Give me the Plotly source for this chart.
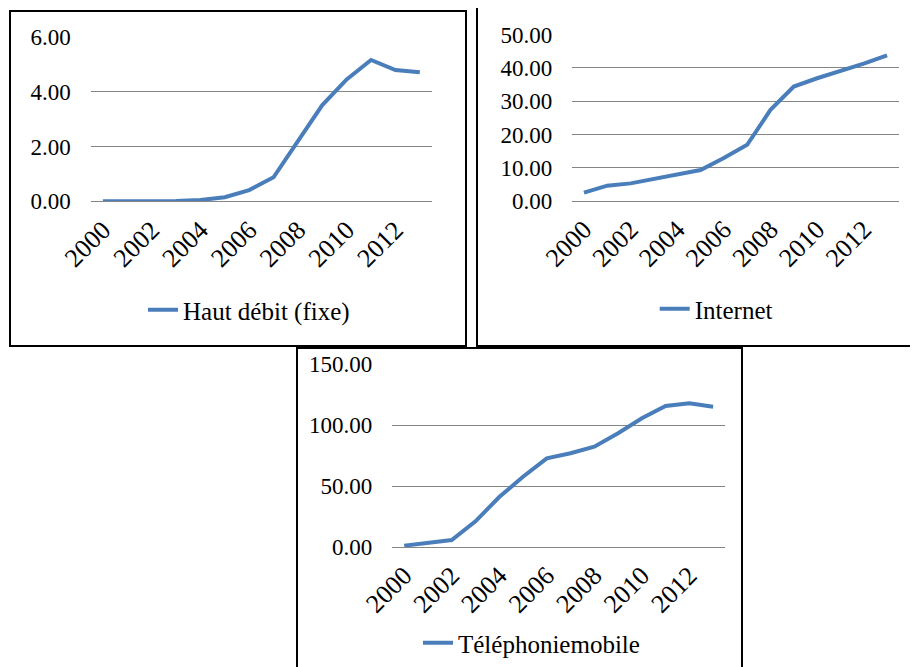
import plotly.graph_objects as go

YEARS = list(range(2000, 2014))
TICK_YEARS = [2000, 2002, 2004, 2006, 2008, 2010, 2012]

haut_debit = [0.0, 0.0, 0.0, 0.01, 0.05, 0.15, 0.41, 0.88, 2.2, 3.52, 4.46, 5.17, 4.80, 4.72]
internet = [2.5, 4.6, 5.3, 6.6, 8.1, 9.3, 12.9, 16.9, 27.4, 34.4, 36.9, 39.0, 41.3, 43.8]
mobile = [1.1, 3.6, 5.7, 21.0, 41.0, 57.6, 72.7, 76.8, 82.2, 93.2, 105.5, 115.6, 117.8, 115.0]

names = ["Haut débit (fixe)", "Internet", "Téléphoniemobile"]

# page body has an 8px margin, so the figure is drawn 8px in from the window edge
OFF = 8
W, H = 918 - OFF, 667 - OFF
FONT = "Liberation Serif"
BLUE = "#4a7ebb"
GRID = "#858585"

def px(x):
    return (x - OFF) / W

def py(y):
    return 1 - (y - OFF) / H

fig = go.Figure()

panels = [
    dict(data=haut_debit, name=names[0], xd=[px(90.7), px(432)], yd=[py(201.3), py(37.3)],
         yr=[0, 6], dt=2, leg=(185, 310)),
    dict(data=internet, name=names[1], xd=[px(572.3), px(898.7)], yd=[py(201), py(34.7)],
         yr=[0, 50], dt=10, leg=(696.7, 309)),
    dict(data=mobile, name=names[2], xd=[px(392.3), px(725)], yd=[py(547), py(364)],
         yr=[0, 150], dt=50, leg=(460, 643)),
]

layout = dict(
    width=W, height=H, margin=dict(l=0, r=0, t=0, b=0, autoexpand=False),
    paper_bgcolor="white", plot_bgcolor="white",
    font=dict(family=FONT, color="black"),
    showlegend=True,
)

for i, p in enumerate(panels, start=1):
    sx = "" if i == 1 else str(i)
    leg = "legend" if i == 1 else f"legend{i}"
    fig.add_trace(go.Scatter(
        x=YEARS, y=p["data"], mode="lines", name=p["name"],
        line=dict(color=BLUE, width=4),
        xaxis=f"x{sx}", yaxis=f"y{sx}", legend=leg,
    ))
    layout[f"xaxis{sx}"] = dict(
        domain=p["xd"], anchor=f"y{sx}", range=[1999.5, 2013.5],
        tickvals=TICK_YEARS, tickangle=-45, showgrid=False, zeroline=False,
        showline=True, linecolor=GRID, linewidth=1, automargin=False,
        tickfont=dict(family=FONT, size=26, color="black"), ticks="",
        ticklabelstandoff=2,
    )
    layout[f"yaxis{sx}"] = dict(
        domain=p["yd"], anchor=f"x{sx}", range=p["yr"], dtick=p["dt"],
        tickformat=".2f", showgrid=True, gridcolor=GRID, gridwidth=1,
        zeroline=False, showline=False, ticks="", automargin=False,
        tickfont=dict(family=FONT, size=23, color="black"),
        ticklabelstandoff=19,
    )
    layout[leg] = dict(
        x=px(p["leg"][0] - 42), y=py(p["leg"][1]), xanchor="left", yanchor="middle",
        font=dict(family=FONT, size=25, color="black"), bgcolor="rgba(0,0,0,0)",
        borderwidth=0,
    )

boxes = [
    (10, 11, 466, 346),
    (477, 7, 925, 346),
    (297, 348, 742, 675),
]
shapes = []
for x0, y0, x1, y1 in boxes:
    shapes.append(dict(type="rect", xref="paper", yref="paper",
                       x0=px(x0), x1=px(x1), y0=py(y1), y1=py(y0),
                       line=dict(color="black", width=2), fillcolor="rgba(0,0,0,0)"))
layout["shapes"] = shapes

fig.update_layout(**layout)
fig.write_html("out.html")
